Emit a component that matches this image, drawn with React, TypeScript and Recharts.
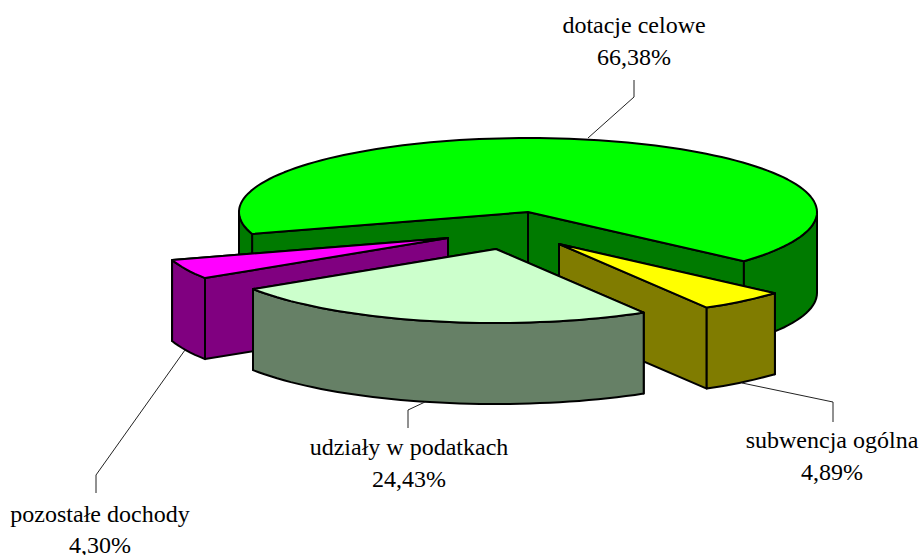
import { PieChart, Pie } from 'recharts';

const names = ['dotacje celowe', 'subwencja ogólna', 'udziały w podatkach', 'pozostałe dochody'];
const shares = [66.38, 4.89, 24.43, 4.3];
const topColors = ['#00ff00', '#ffff00', '#ccffcc', '#ff00ff'];
const wallColors = ['#007a00', '#807c00', '#668066', '#800080'];

const data = names.map((name, i) => ({ name, value: shares[i], index: i }));

// how far each slice is pulled out of the pie
const explode = [
  [0, 0],
  [31, 32],
  [-32, 37],
  [-80, 26],
];

// label centre + baselines, leader line points
const labelLayout = [
  { x: 634, y1: 33, y2: 65, line: '634,80 634,97 588,138' },
  { x: 832, y1: 448, y2: 480, line: '833,422 833,402 742,383' },
  { x: 409, y1: 455, y2: 487, line: '408,428 408,410 425,402' },
  { x: 100, y1: 522, y2: 553, line: '96,493 96,475 185,350' },
];

const SQUASH = 0.256;
const DEPTH = 81;
const RAD = Math.PI / 180;
const FRONT_SLICE = 2;

const arcPoints = (cx: number, cy: number, r: number, from: number, to: number) => {
  const pts: number[][] = [];
  const steps = Math.max(2, Math.ceil((to - from) / 2));
  for (let i = 0; i <= steps; i++) {
    const t = (from + ((to - from) * i) / steps) * RAD;
    pts.push([cx + r * Math.cos(t), cy + r * SQUASH * Math.sin(t)]);
  }
  return pts;
};

const toPath = (pts: number[][]) =>
  'M' + pts.map((p) => `${p[0].toFixed(1)},${p[1].toFixed(1)}`).join('L') + 'Z';

const Slice3D = (props: any) => {
  const { cx, cy, outerRadius, startAngle, endAngle, index } = props;
  const [dx, dy] = explode[index];
  const x0 = cx + dx;
  const y0 = cy + dy;
  // pie angles run counter-clockwise, the screen y axis points down
  let t1 = -startAngle;
  let t2 = -endAngle;
  if (t1 < 0) {
    t1 += 360;
    t2 += 360;
  }
  const rim = arcPoints(x0, y0, outerRadius, t1, t2);
  const down = (p: number[]) => [p[0], p[1] + DEPTH];
  const centre = [x0, y0];
  const style = { stroke: '#000', strokeWidth: 2, strokeLinejoin: 'round' as const };

  // farther cut wall goes first so the nearer one paints over it
  const cuts = [rim[0], rim[rim.length - 1]].sort((a, b) => a[1] - b[1]);

  // only the near half of the rim shows a wall
  const walls = [
    [0, 180],
    [360, 540],
  ]
    .map(([a, b]) => [Math.max(a, t1), Math.min(b, t2)])
    .filter(([a, b]) => b > a)
    .map(([a, b]) => {
      const pts = arcPoints(x0, y0, outerRadius, a, b);
      return toPath([...pts, ...pts.slice().reverse().map(down)]);
    });

  return (
    <g>
      {cuts.map((p) => (
        <path key={p[0]} d={toPath([centre, p, down(p), down(centre)])} fill={wallColors[index]} {...style} />
      ))}
      {walls.map((d) => (
        <path key={d} d={d} fill={wallColors[index]} {...style} />
      ))}
      <path d={toPath([centre, ...rim])} fill={topColors[index]} {...style} />
    </g>
  );
};

const backShape = (props: any) => (props.index === FRONT_SLICE ? <g /> : <Slice3D {...props} />);
const frontShape = (props: any) => (props.index === FRONT_SLICE ? <Slice3D {...props} /> : <g />);

const renderLabel = (props: any) => {
  const { index } = props;
  const l = labelLayout[index];
  const textStyle = { fontFamily: '"Liberation Serif", serif', fontSize: 24, fill: '#000' };
  return (
    <g key={index}>
      <polyline points={l.line} fill="none" stroke="#222" strokeWidth={1} />
      <text x={l.x} y={l.y1} textAnchor="middle" {...textStyle}>
        {names[index]}
      </text>
      <text x={l.x} y={l.y2} textAnchor="middle" {...textStyle}>
        {shares[index].toFixed(2).replace('.', ',')}%
      </text>
    </g>
  );
};

const App = () => {
  const pieProps = {
    data,
    dataKey: 'value',
    nameKey: 'name',
    cx: 528,
    cy: 212,
    innerRadius: 0,
    outerRadius: 289,
    startAngle: 197.3,
    endAngle: -162.7,
    stroke: 'none',
    isAnimationActive: false,
  };
  return (
    <div style={{ position: 'absolute', left: 0, top: 0 }}>
      <PieChart width={919} height={555} margin={{ top: 0, right: 0, bottom: 0, left: 0 }}>
        <Pie {...pieProps} shape={backShape} activeShape={backShape} inactiveShape={backShape} />
        <Pie {...pieProps} shape={frontShape} activeShape={frontShape} inactiveShape={frontShape} label={renderLabel} labelLine={false} />
      </PieChart>
    </div>
  );
};

export default App;
